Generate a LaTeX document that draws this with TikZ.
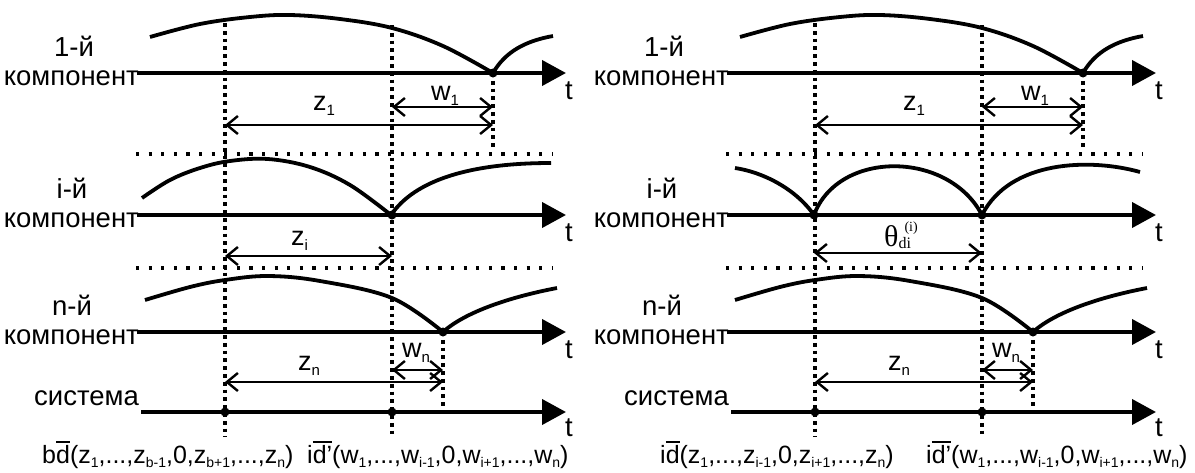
\documentclass[tikz,border=0pt]{standalone}
\usepackage{fontspec}
\setmainfont{Liberation Sans}
\newfontfamily\seriffont{Liberation Serif}
\usetikzlibrary{arrows.meta}

% small lowered index and overlined group
\newcommand\ix[1]{\raisebox{-5pt}{\fontsize{15}{15}\selectfont #1}}
\newcommand\bx[1]{\raisebox{-4.5pt}{\fontsize{14}{14}\selectfont #1}}
\newcommand\ovl[1]{\leavevmode\vbox{\hrule height 2pt\kern1.6pt\hbox{#1}}}

\tikzset{
  axis/.style={line width=4pt,-{Triangle[length=24pt,width=25pt]}},
  curve/.style={line width=3.8pt},
  vdot/.style={line width=3.8pt,dash pattern=on 3.8pt off 4pt},
  hdot/.style={line width=3.2pt,dash pattern=on 3.2pt off 9.4pt},
  span/.style={line width=2.4pt,
    {Straight Barb[length=11pt,width=18pt]}-{Straight Barb[length=11pt,width=18pt]}},
  txt/.style={inner sep=0pt,font=\fontsize{27.5}{27.5}\selectfont},
  vl/.style={inner sep=0pt,font=\fontsize{27}{27}\selectfont,anchor=base west},
  formula/.style={inner sep=0pt,font=\fontsize{25}{25}\selectfont,anchor=base west},
  knot/.style={circle,fill,inner sep=0pt,minimum size=9pt},
}

% parts shared by both halves; #1 is the name prefix
\newcommand\drawpanel[1]{%
  % row titles
  \node[txt,anchor=base] (#1h1) at (74,56) {1-й};
  \node[txt,anchor=base east] (#1c1) at (139,85) {компонент};
  \node[txt,anchor=base] (#1hi) at (72,198) {i-й};
  \node[txt,anchor=base east] (#1ci) at (139,227) {компонент};
  \node[txt,anchor=base] (#1hn) at (72,315) {n-й};
  \node[txt,anchor=base east] (#1cn) at (139,344) {компонент};
  \node[txt,anchor=base east] (#1cs) at (139,405) {система};
  % time axes
  \coordinate (#1s1) at (137,73);  \coordinate (#1e1) at (566,73);
  \coordinate (#1si) at (137,215); \coordinate (#1ei) at (566,215);
  \coordinate (#1sn) at (137,332); \coordinate (#1en) at (566,332);
  \coordinate (#1ss) at (141,412); \coordinate (#1es) at (566,412);
  \draw[axis] (#1s1) -- (#1e1);
  \draw[axis] (#1si) -- (#1ei);
  \draw[axis] (#1sn) -- (#1en);
  \draw[axis] (#1ss) -- (#1es);
  \node[txt,anchor=base] (#1t1) at (569,99) {t};
  \node[txt,anchor=base] (#1ti) at (569,241) {t};
  \node[txt,anchor=base] (#1tn) at (569,358) {t};
  \node[txt,anchor=base] (#1ts) at (569,436) {t};
  % row separators
  \coordinate (#1r1a) at (136,154); \coordinate (#1r1b) at (552,154);
  \coordinate (#1r2a) at (136,268); \coordinate (#1r2b) at (552,268);
  \draw[hdot] (#1r1a) -- (#1r1b);
  \draw[hdot] (#1r2a) -- (#1r2b);
  % vertical markers
  \coordinate (#1v1t) at (225,23);  \coordinate (#1v1b) at (225,437);
  \coordinate (#1v2t) at (392,25);  \coordinate (#1v2b) at (392,437);
  \coordinate (#1v3t) at (493,73);  \coordinate (#1v3b) at (493,150);
  \coordinate (#1v4t) at (443,332); \coordinate (#1v4b) at (443,410);
  \draw[vdot] (#1v1t) -- (#1v1b);
  \draw[vdot] (#1v2t) -- (#1v2b);
  \draw[vdot] (#1v3t) -- (#1v3b);
  \draw[vdot] (#1v4t) -- (#1v4b);
  % first component
  \draw[curve] plot[smooth,tension=0.6] coordinates
    {(150,37) (200,24) (250,17) (290,15) (340,19) (392,28) (443,46) (493,73)};
  \draw[curve] (#1v3t) .. controls (505,52) and (525,41) .. (553,36);
  \node[knot] (#1k1) at (#1v3t) {};
  \coordinate (#1z1a) at (225,125); \coordinate (#1z1b) at (493,125);
  \coordinate (#1w1a) at (392,107); \coordinate (#1w1b) at (493,107);
  \draw[span] (#1z1a) -- (#1z1b);
  \draw[span] (#1w1a) -- (#1w1b);
  \node[vl] (#1lz1) at (313,110) {z\ix{1}};
  \node[vl] (#1lw1) at (431,100) {w\ix{1}};
  % n-th component
  \draw[curve] plot[smooth,tension=0.6] coordinates
    {(145,300) (190,287) (225,280) (268,276) (320,281) (392,298) (443,332)};
  \draw[curve] (#1v4t) .. controls (465,312) and (510,297) .. (557,288);
  \node[knot] (#1kn) at (#1v4t) {};
  \coordinate (#1zna) at (225,382); \coordinate (#1znb) at (443,382);
  \coordinate (#1wna) at (392,370); \coordinate (#1wnb) at (443,370);
  \draw[span] (#1zna) -- (#1znb);
  \draw[span] (#1wna) -- (#1wnb);
  \node[vl] (#1lzn) at (298,370) {z\ix{n}};
  \node[vl] (#1lwn) at (402,357) {w\ix{n}};
  % system
  \node[knot] (#1ks1) at (225,412) {};
  \node[knot] (#1ks2) at (392,412) {};
}

\begin{document}
\begin{tikzpicture}[x=1pt,y=-1pt]
  \useasboundingbox (0,0) rectangle (1195,472);

  % ---- left half ----
  \drawpanel{L}
  \draw[curve] plot[smooth,tension=0.6] coordinates
    {(142,198) (170,180) (200,168) (230,161) (268,159) (310,167) (350,185) (391,215)};
  \draw[curve] (391,215) .. controls (415,180) and (470,163) .. (551,163);
  \node[knot] (Lki) at (392,215) {};
  \coordinate (Lzia) at (225,256); \coordinate (Lzib) at (392,256);
  \draw[span] (Lzia) -- (Lzib);
  \node[vl] (Llzi) at (291,245) {z\ix{i}};
  \node[formula] (Lf1) at (42,463)
    {b\ovl{d}(z\bx{1},...,z\bx{b-1},0,z\bx{b+1},...,z\bx{n})};
  \node[formula] (Lf2) at (307,463)
    {i\ovl{d’}(w\bx{1},...,w\bx{i-1},0,w\bx{i+1},...,w\bx{n})};

  % ---- right half ----
  \begin{scope}[xshift=590pt]
    \drawpanel{R}
    \coordinate (Rc1) at (224,215); \coordinate (Rc2) at (392,215);
    \draw[curve] (145,168) .. controls (172,172) and (205,188) .. (Rc1);
    \draw[curve] (Rc1) .. controls (248,150) and (358,150) .. (Rc2);
    \draw[curve] (Rc2) .. controls (420,160) and (500,158) .. (550,172);
    \node[knot] (Rki1) at (Rc1) {};
    \node[knot] (Rki2) at (Rc2) {};
    \coordinate (Rtha) at (224,253); \coordinate (Rthb) at (392,253);
    \draw[span] (Rtha) -- (Rthb);
    \node[inner sep=0pt,anchor=base west,font=\seriffont\fontsize{30}{30}\selectfont] (Rlth) at (294,246)
      {θ\makebox[0pt][l]{\raisebox{-2.5pt}{\fontsize{16}{16}\selectfont di}}\raisebox{15pt}{\fontsize{14}{14}\selectfont\hspace{6pt}(i)}};
    \node[formula] (Rf1) at (70,463)
      {i\ovl{d}(z\bx{1},...,z\bx{i-1},0,z\bx{i+1},...,z\bx{n})};
    \node[formula] (Rf2) at (336,463)
      {i\ovl{d’}(w\bx{1},...,w\bx{i-1},0,w\bx{i+1},...,w\bx{n})};
  \end{scope}
\end{tikzpicture}
\end{document}
